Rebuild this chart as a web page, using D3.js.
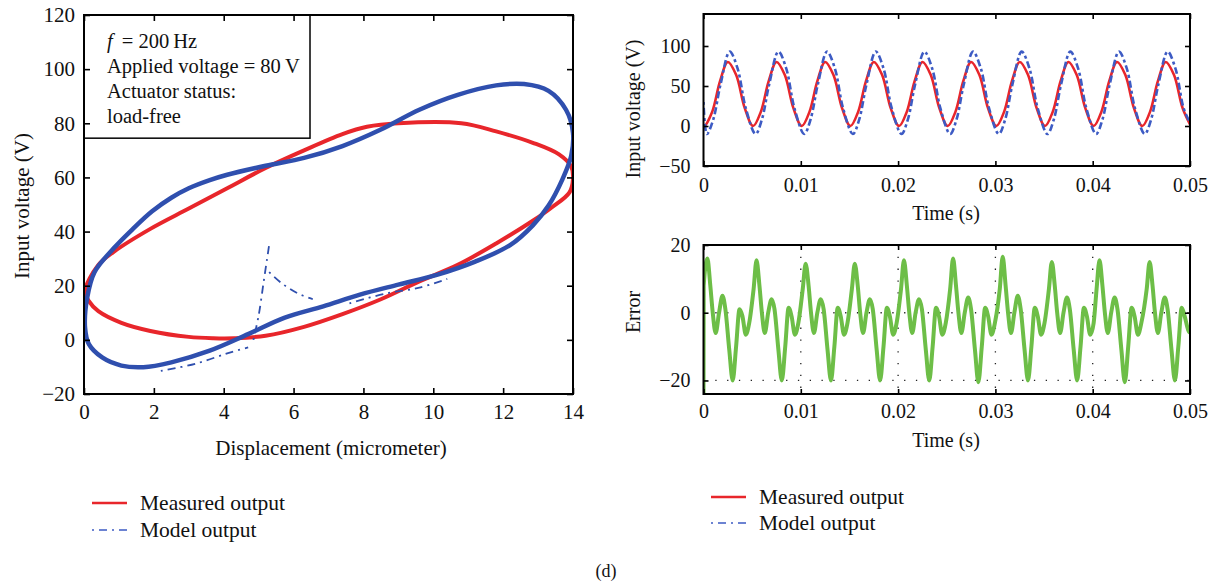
<!DOCTYPE html>
<html>
<head>
<meta charset="utf-8">
<script src="https://cdn.jsdelivr.net/npm/d3@7"></script>
<style>
  body { margin: 0; background: #fff; }
  svg { display: block; font-family: "Liberation Serif", "Times New Roman", serif; }
</style>
</head>
<body>
<div id="chart"></div>
<script>
// ---- data: hysteresis loop (displacement um, voltage V) ----
const measuredLoop = [[0.03,18],[0.4,27.5],[0.85,32.5],[1.9,41],[3.0,48.5],[4.1,56],[5.2,63.5],[6.3,70],[7.4,76],
  [8.1,78.7],[9.0,80],[10.8,80],[11.8,77],[12.85,72.8],[13.6,68.5],[13.95,64],[14.0,59.5],[13.9,54.5],[13.4,49],
  [12.85,44],[11.8,35.6],[10.7,27.7],[9.6,21.6],[8.5,15],[7.4,9.5],[6.3,4.8],[5.2,1.5],[4.3,0.6],[3.7,0.6],[3.0,1.1],
  [1.9,3.3],[1.07,6.3],[0.41,10.6],[0.14,14.3]];
const modelLoop = [[0.03,4.5],[0.09,15.5],[0.3,25],[0.85,33.8],[1.4,41],[1.95,47.5],[2.5,52.5],[3.0,56],[3.6,59],
  [4.1,61],[5.2,64.3],[6.3,67.2],[7.4,71.6],[8.5,77.7],[9.6,85],[10.7,90.5],[11.8,94],[12.6,94.5],[13.3,92],[13.8,85],
  [14.0,76.5],[13.95,68],[13.7,59.4],[13.3,49.6],[12.85,42.3],[12.2,35],[11.2,28.9],[10.1,24],[9.0,20.4],[7.9,16.7],
  [6.85,12.4],[5.75,8.2],[4.7,2.1],[3.6,-4],[2.5,-8.3],[1.7,-10.1],[1.07,-9.5],[0.52,-6.5],[0.14,-1.6]];
const modelStrays = [
  [[4.85,0],[5.0,9],[5.15,22],[5.3,35]],
  [[5.3,25],[5.65,21],[6.1,17.3],[6.55,15]],
  [[2.2,-11.5],[3.2,-8.8],[4.1,-5],[4.7,-2.8]],
  [[7.6,13.5],[8.6,17],[9.6,19.3],[10.4,22.5]]
];
const loopXTicks = [0, 2, 4, 6, 8, 10, 12, 14];
const loopYTicks = [-20, 0, 20, 40, 60, 80, 100, 120];
const noteLines = ["= 200\u2009Hz", "Applied voltage = 80\u2009V", "Actuator status:", "load-free"];

// ---- data: time responses (time ms, value) ----
const measuredV = [[0,2],[0.1,0],[0.9,18],[1.7,56],[2.5,80],[3.35,64],[4.25,22],
  [5.1,0],[5.9,18],[6.7,56],[7.5,80],[8.35,64],[9.25,22],
  [10.1,0],[10.9,18],[11.7,56],[12.5,80],[13.35,64],[14.25,22],
  [15.1,0],[15.9,18],[16.7,56],[17.5,80],[18.35,64],[19.25,22],
  [20.1,0],[20.9,18],[21.7,56],[22.5,80],[23.35,64],[24.25,22],
  [25.1,0],[25.9,18],[26.7,56],[27.5,80],[28.35,64],[29.25,22],
  [30.1,0],[30.9,18],[31.7,56],[32.5,80],[33.35,64],[34.25,22],
  [35.1,0],[35.9,18],[36.7,56],[37.5,80],[38.35,64],[39.25,22],
  [40.1,0],[40.9,18],[41.7,56],[42.5,80],[43.35,64],[44.25,22],
  [45.1,0],[45.9,18],[46.7,56],[47.5,80],[48.35,64],[49.25,22],[50,2]];
const modelV = [[0,30],[0.35,-10],[1.0,8],[1.75,52],[2.7,93],[3.5,72],[4.35,22],
  [5.35,-10],[6.0,8],[6.75,52],[7.7,93],[8.5,72],[9.35,22],
  [10.35,-10],[11.0,8],[11.75,52],[12.7,93],[13.5,72],[14.35,22],
  [15.35,-10],[16.0,8],[16.75,52],[17.7,93],[18.5,72],[19.35,22],
  [20.35,-10],[21.0,8],[21.75,52],[22.7,93],[23.5,72],[24.35,22],
  [25.35,-10],[26.0,8],[26.75,52],[27.7,93],[28.5,72],[29.35,22],
  [30.35,-10],[31.0,8],[31.75,52],[32.7,93],[33.5,72],[34.35,22],
  [35.35,-10],[36.0,8],[36.75,52],[37.7,93],[38.5,72],[39.35,22],
  [40.35,-10],[41.0,8],[41.75,52],[42.7,93],[43.5,72],[44.35,22],
  [45.35,-10],[46.0,8],[46.75,52],[47.7,93],[48.5,72],[49.35,22],[50,4]];
const errorV = [[0,-25],[0.02,8],[0.4,16],[0.7,8],[0.95,0],[1.25,-6],[1.6,0],[1.95,5],[2.25,1],[2.65,-11],[3.0,-20],[3.35,-10],[3.7,1],[4.0,-1],[4.35,-6.5],[4.7,-3],
  [5.15,7],[5.45,15.5],[5.75,8],[6.0,0],[6.3,-6],[6.65,0],[7.0,4],[7.3,1],[7.7,-11],[8.05,-20],[8.4,-10],[8.75,1.5],[9.05,-1],[9.4,-6.5],[9.75,-3],
  [10.2,7],[10.5,14.5],[10.8,8],[11.05,0],[11.35,-6],[11.7,0],[12.05,4],[12.35,1],[12.75,-11],[13.1,-20],[13.45,-10],[13.8,1.5],[14.1,-1],[14.45,-6.5],[14.8,-3],
  [15.25,7],[15.55,14.5],[15.85,8],[16.1,0],[16.4,-6],[16.75,0],[17.1,4],[17.4,1],[17.8,-11],[18.15,-20],[18.5,-10],[18.85,1.5],[19.15,-1],[19.5,-6.5],[19.85,-3],
  [20.3,7],[20.6,15.5],[20.9,8],[21.15,0],[21.45,-6],[21.8,0],[22.15,4],[22.45,1],[22.85,-11],[23.2,-20],[23.55,-10],[23.9,1.5],[24.2,-1],[24.55,-6.5],[24.9,-3],
  [25.35,7],[25.65,16],[25.95,8],[26.2,0],[26.5,-6],[26.85,0],[27.2,4.5],[27.5,1],[27.9,-11],[28.25,-20.5],[28.6,-10],[28.95,1.5],[29.25,-1],[29.6,-6.5],[29.95,-3],
  [30.45,7],[30.75,16.5],[31.05,8],[31.3,0],[31.6,-6],[31.95,0],[32.3,5],[32.6,1],[33.0,-11],[33.35,-20],[33.7,-10],[34.05,1.5],[34.35,-1],[34.7,-6.5],[35.05,-3],
  [35.5,7],[35.8,15],[36.1,8],[36.35,0],[36.65,-6],[37.0,0],[37.35,4.5],[37.65,1],[38.05,-11],[38.4,-20],[38.75,-10],[39.1,1.5],[39.4,-1],[39.75,-6.5],[40.1,-3],
  [40.4,7],[40.7,15.5],[41.0,8],[41.25,0],[41.55,-6],[41.9,0],[42.25,4.5],[42.55,1],[42.95,-11],[43.3,-20.5],[43.65,-10],[44.0,1.5],[44.3,-1],[44.65,-6.5],[45.0,-3],
  [45.55,7],[45.85,15],[46.15,8],[46.4,0],[46.7,-6],[47.05,0],[47.4,4.5],[47.7,1],[48.1,-11],[48.45,-20],[48.8,-10],[49.15,1.5],[49.45,-1],[49.8,-5],[50,-6]];
const timeTicks = [0, 0.01, 0.02, 0.03, 0.04, 0.05];
const voltTicks = [-50, 0, 50, 100];
const errorTicks = [-20, 0, 20];
const legendLabels = ["Measured output", "Model output"];

const width = 1214;
const height = 581;
const red = "#e8262b";
const blue = "#2f4fae";
const lightBlue = "#3d5bc4";
const green = "#6dbe47";
const dashDot = "2,5,8,5";
const tickFormat = d3.format("~g");

const svg = d3.select("#chart")
  .append("svg")
    .attr("width", width)
    .attr("height", height)
    .attr("viewBox", [0, 0, width, height]);

// frame with inward ticks mirrored on all four sides
function drawFrame(x, y, xTicks, yTicks, opt) {
  const [x0, x1] = x.range();
  const [y0, y1] = y.range();
  const g = svg.append("g");

  g.append("g")
      .attr("transform", `translate(0,${y0})`)
      .call(d3.axisBottom(x).tickValues(xTicks).tickFormat(tickFormat)
        .tickSizeInner(-opt.tick).tickSizeOuter(0).tickPadding(opt.xPad));
  g.append("g")
      .attr("transform", `translate(0,${y1})`)
      .call(d3.axisTop(x).tickValues(xTicks).tickSizeInner(-opt.tick).tickSizeOuter(0).tickFormat(""));
  g.append("g")
      .attr("transform", `translate(${x0},0)`)
      .call(d3.axisLeft(y).tickValues(yTicks).tickFormat(tickFormat)
        .tickSizeInner(-opt.tick).tickSizeOuter(0).tickPadding(opt.yPad));
  g.append("g")
      .attr("transform", `translate(${x1},0)`)
      .call(d3.axisRight(y).tickValues(yTicks).tickSizeInner(-opt.tick).tickSizeOuter(0).tickFormat(""));

  g.selectAll(".domain").remove();
  g.selectAll(".tick line").attr("stroke", "#000").attr("stroke-width", 1.6);
  g.selectAll(".tick text")
      .attr("fill", "#111")
      .attr("font-size", opt.fontSize)
      .attr("font-family", "Liberation Serif, serif");

  g.append("rect")
      .attr("x", x0).attr("y", y1)
      .attr("width", x1 - x0).attr("height", y0 - y1)
      .attr("fill", "none").attr("stroke", "#000").attr("stroke-width", 2);
}

function clipFor(id, x, y) {
  svg.append("clipPath").attr("id", id)
    .append("rect")
      .attr("x", x.range()[0]).attr("y", y.range()[1])
      .attr("width", x.range()[1] - x.range()[0])
      .attr("height", y.range()[0] - y.range()[1]);
  return `url(#${id})`;
}

// ---------- left: hysteresis ----------
const xL = d3.scaleLinear().domain([0, 14]).range([84, 573]);
const yL = d3.scaleLinear().domain([-20, 120]).range([394, 15]);
const loopLine = d3.line().x(d => xL(d[0])).y(d => yL(d[1])).curve(d3.curveCatmullRomClosed);
const strayLine = d3.line().x(d => xL(d[0])).y(d => yL(d[1])).curve(d3.curveCatmullRom);

const gL = svg.append("g").attr("clip-path", clipFor("clipL", xL, yL));
gL.append("path").attr("d", loopLine(measuredLoop))
    .attr("fill", "none").attr("stroke", red).attr("stroke-width", 4);
gL.append("path").attr("d", loopLine(modelLoop))
    .attr("fill", "none").attr("stroke", blue).attr("stroke-width", 4.5);
gL.selectAll(".stray")
  .data(modelStrays)
  .join("path")
    .attr("d", strayLine)
    .attr("fill", "none").attr("stroke", blue).attr("stroke-width", 1.8)
    .attr("stroke-dasharray", dashDot);

// annotation box
svg.append("rect")
    .attr("x", xL(0)).attr("y", yL(120))
    .attr("width", 310 - xL(0)).attr("height", yL(74.5) - yL(120))
    .attr("fill", "#fff").attr("stroke", "#000").attr("stroke-width", 1.5);
const note = svg.append("g").attr("font-size", 20.5).attr("fill", "#111");
note.selectAll("text")
  .data(noteLines)
  .join("text")
    .attr("x", 107)
    .attr("y", (d, i) => 48 + i * 25)
    .each(function(d, i) {
      const t = d3.select(this);
      if (i === 0) {
        t.append("tspan").attr("font-style", "italic").text("f");
        t.append("tspan").attr("dx", 9).text(d);
      } else t.text(d);
    });

drawFrame(xL, yL, loopXTicks, loopYTicks, {fontSize: 21, tick: 6, xPad: 10, yPad: 9});

svg.append("text")
    .attr("transform", "translate(29,206) rotate(-90)")
    .attr("text-anchor", "middle").attr("font-size", 21).attr("fill", "#111")
    .text("Input voltage (V)");
svg.append("text")
    .attr("x", 331).attr("y", 455)
    .attr("text-anchor", "middle").attr("font-size", 21).attr("fill", "#111")
    .text("Displacement (micrometer)");

// ---------- right top: voltage vs time ----------
const xT = d3.scaleLinear().domain([0, 0.05]).range([703.5, 1190]);
const yT = d3.scaleLinear().domain([-50, 140]).range([166, 14]);
const tLine = d3.line().x(d => xT(d[0] / 1000)).y(d => yT(d[1])).curve(d3.curveCatmullRom);

const gT = svg.append("g").attr("clip-path", clipFor("clipT", xT, yT));
gT.append("path").attr("d", tLine(measuredV))
    .attr("fill", "none").attr("stroke", red).attr("stroke-width", 2.6);
gT.append("path").attr("d", tLine(modelV))
    .attr("fill", "none").attr("stroke", lightBlue).attr("stroke-width", 2.6)
    .attr("stroke-dasharray", "3,3,7,3");

drawFrame(xT, yT, timeTicks, voltTicks, {fontSize: 20, tick: 5, xPad: 12, yPad: 13});

svg.append("text")
    .attr("transform", "translate(640,109) rotate(-90)")
    .attr("text-anchor", "middle").attr("font-size", 20).attr("fill", "#111")
    .text("Input voltage (V)");
svg.append("text")
    .attr("x", 946).attr("y", 220)
    .attr("text-anchor", "middle").attr("font-size", 20).attr("fill", "#111")
    .text("Time (s)");

// ---------- right bottom: error vs time ----------
const xE = d3.scaleLinear().domain([0, 0.05]).range([703.5, 1190]);
const yE = d3.scaleLinear().domain([-24, 20]).range([394, 245]);
const eLine = d3.line().x(d => xE(d[0] / 1000)).y(d => yE(d[1])).curve(d3.curveMonotoneX);

// dotted grid
const grid = svg.append("g")
    .attr("stroke", "#222").attr("stroke-width", 1.3).attr("stroke-dasharray", "1.3,10.5");
grid.selectAll(".gx")
  .data(timeTicks.slice(1, -1))
  .join("line")
    .attr("x1", d => xE(d)).attr("x2", d => xE(d))
    .attr("y1", yE(20)).attr("y2", yE(-24));
grid.selectAll(".gy")
  .data(errorTicks.slice(0, -1))
  .join("line")
    .attr("x1", xE(0)).attr("x2", xE(0.05))
    .attr("y1", d => yE(d)).attr("y2", d => yE(d));

const gE = svg.append("g").attr("clip-path", clipFor("clipE", xE, yE));
gE.append("path").attr("d", eLine(errorV))
    .attr("fill", "none").attr("stroke", green).attr("stroke-width", 4)
    .attr("stroke-linejoin", "round");

drawFrame(xE, yE, timeTicks, errorTicks, {fontSize: 20, tick: 5, xPad: 10, yPad: 13});

svg.append("text")
    .attr("transform", "translate(640,312) rotate(-90)")
    .attr("text-anchor", "middle").attr("font-size", 20).attr("fill", "#111")
    .text("Error");
svg.append("text")
    .attr("x", 946).attr("y", 447)
    .attr("text-anchor", "middle").attr("font-size", 20).attr("fill", "#111")
    .text("Time (s)");

// ---------- legends ----------
function legend(x, y, gap) {
  const g = svg.append("g").attr("transform", `translate(${x},${y})`);
  const item = g.selectAll("g")
    .data(legendLabels)
    .join("g")
      .attr("transform", (d, i) => `translate(0,${i * gap})`);
  item.append("line")
      .attr("x1", 0).attr("x2", 35)
      .attr("stroke", (d, i) => i === 0 ? red : lightBlue)
      .attr("stroke-width", (d, i) => i === 0 ? 2.4 : 1.6)
      .attr("stroke-dasharray", (d, i) => i === 0 ? null : dashDot);
  item.append("text")
      .attr("x", 48).attr("dy", "0.33em")
      .attr("font-size", 21.5).attr("fill", "#111")
      .text(d => d);
}
legend(92, 503, 27);
legend(711, 497, 26);

svg.append("text")
    .attr("x", 606).attr("y", 577)
    .attr("text-anchor", "middle").attr("font-size", 18).attr("fill", "#111")
    .text("(d)");
</script>
</body>
</html>
